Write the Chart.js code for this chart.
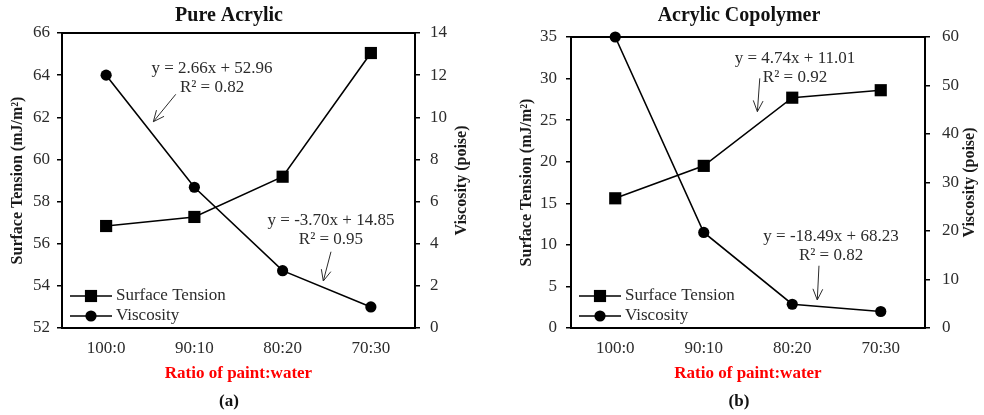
<!DOCTYPE html>
<html><head><meta charset="utf-8">
<script src="https://cdn.jsdelivr.net/npm/chart.js@4.4.0/dist/chart.umd.min.js"></script>
<style>
html,body{margin:0;padding:0;width:984px;height:415px;overflow:hidden;background:#fff;position:relative;}
#c1{position:absolute;left:-20px;top:0;}
#c2{position:absolute;left:494px;top:0;}
</style></head><body>
<canvas id="c1" width="498" height="415"></canvas>
<canvas id="c2" width="490" height="415"></canvas>
<script>
// ---- data ----
const categories = ['100:0', '90:10', '80:20', '70:30'];
const seriesNames = ['Surface Tension', 'Viscosity'];
const pureSurfaceTension = [56.84, 57.27, 59.18, 65.05];
const pureViscosity = [12.0, 6.68, 2.72, 1.0];
const copoSurfaceTension = [15.6, 19.5, 27.7, 28.6];
const copoViscosity = [60.0, 19.7, 4.9, 3.4];
const pureTensionTicks = [52, 54, 56, 58, 60, 62, 64, 66];
const pureViscosityTicks = [0, 2, 4, 6, 8, 10, 12, 14];
const copoTensionTicks = [0, 5, 10, 15, 20, 25, 30, 35];
const copoViscosityTicks = [0, 10, 20, 30, 40, 50, 60];
const pureEquations = [['y = 2.66x + 52.96', 'R² = 0.82'], ['y = -3.70x + 14.85', 'R² = 0.95']];
const copoEquations = [['y = 4.74x + 11.01', 'R² = 0.92'], ['y = -18.49x + 68.23', 'R² = 0.82']];

const FONT = "'Liberation Serif', 'Times New Roman', serif";
const INK = '#2b2b2b';

const framePlugin = {
  id: 'frame',
  beforeDatasetsDraw(chart) {
    const {ctx, chartArea: a} = chart;
    ctx.save();
    ctx.strokeStyle = '#000';
    ctx.lineWidth = 2;
    ctx.strokeRect(a.left, a.top, a.right - a.left, a.bottom - a.top);
    ctx.restore();
  }
};

// right-hand axis title, read bottom-to-top like the reference
const sideTitle = {
  id: 'sideTitle',
  afterDraw(chart, args, opts) {
    const {ctx, chartArea: a} = chart;
    const s = chart.scales.y1;
    const size = 16, lh = size * 1.2;
    ctx.save();
    ctx.translate(s.right - opts.pad - lh / 2, (a.top + a.bottom) / 2);
    ctx.rotate(-Math.PI / 2);
    ctx.font = `bold ${size}px ${FONT}`;
    ctx.fillStyle = '#1a1a1a';
    ctx.textAlign = 'center';
    ctx.textBaseline = 'middle';
    ctx.fillText(opts.text, 0, 0);
    ctx.restore();
  }
};

function drawMarker(ctx, style, r, x, y) {
  ctx.beginPath();
  if (style === 'rect') {
    const s = Math.SQRT1_2 * r;
    ctx.rect(x - s, y - s, 2 * s, 2 * s);
  } else {
    ctx.arc(x, y, r, 0, Math.PI * 2);
  }
  ctx.fill();
}

const lineLegend = {
  id: 'lineLegend',
  afterDatasetsDraw(chart, args, opts) {
    const {ctx, chartArea: a} = chart;
    ctx.save();
    chart.data.datasets.forEach((ds, i) => {
      const yy = a.bottom - opts.bottomOffset + i * opts.rowGap;
      const x0 = a.left + opts.inset, x1 = x0 + opts.lineLength;
      ctx.strokeStyle = ds.borderColor;
      ctx.fillStyle = ds.backgroundColor;
      ctx.lineWidth = ds.borderWidth;
      ctx.beginPath(); ctx.moveTo(x0, yy); ctx.lineTo(x1, yy); ctx.stroke();
      drawMarker(ctx, ds.pointStyle, ds.pointRadius, (x0 + x1) / 2, yy);
      ctx.fillStyle = INK;
      ctx.font = `17px ${FONT}`;
      ctx.textAlign = 'left';
      ctx.textBaseline = 'middle';
      ctx.fillText(ds.label, x1 + opts.textGap, yy);
    });
    ctx.restore();
  }
};

const trendNotes = {
  id: 'trendNotes',
  afterDatasetsDraw(chart, args, opts) {
    const {ctx} = chart;
    const x = chart.scales.x, y = chart.scales.y;
    ctx.save();
    ctx.font = `17px ${FONT}`;
    ctx.fillStyle = INK;
    ctx.strokeStyle = INK;
    ctx.lineWidth = 1;
    ctx.textAlign = 'center';
    ctx.textBaseline = 'middle';
    opts.notes.forEach(n => {
      const px = x.getPixelForValue(n.at[0]);
      const py = y.getPixelForValue(n.at[1]);
      n.lines.forEach((t, i) => ctx.fillText(t, px, py + i * opts.lineGap));
      const x0 = x.getPixelForValue(n.arrowFrom[0]), y0 = y.getPixelForValue(n.arrowFrom[1]);
      const x1 = x.getPixelForValue(n.arrowTo[0]), y1 = y.getPixelForValue(n.arrowTo[1]);
      const ang = Math.atan2(y1 - y0, x1 - x0), L = 12, h = 0.42;
      ctx.beginPath();
      ctx.moveTo(x0, y0); ctx.lineTo(x1, y1);
      ctx.moveTo(x1 - L * Math.cos(ang - h), y1 - L * Math.sin(ang - h));
      ctx.lineTo(x1, y1);
      ctx.lineTo(x1 - L * Math.cos(ang + h), y1 - L * Math.sin(ang + h));
      ctx.stroke();
    });
    ctx.restore();
  }
};

function makeDatasets(st, visc) {
  return [
    {label: seriesNames[0], data: st, yAxisID: 'y', borderColor: '#000', backgroundColor: '#000',
     borderWidth: 1.6, pointStyle: 'rect', pointRadius: 8.6, pointBorderWidth: 0, tension: 0, clip: false},
    {label: seriesNames[1], data: visc, yAxisID: 'y1', borderColor: '#000', backgroundColor: '#000',
     borderWidth: 1.6, pointStyle: 'circle', pointRadius: 5.6, pointBorderWidth: 0, tension: 0, clip: false}
  ];
}

function yAxis(pos, ticks, title, width, tickPad, titlePad) {
  return {
    position: pos,
    min: ticks[0], max: ticks[ticks.length - 1],
    afterBuildTicks(s) { s.ticks = ticks.map(v => ({value: v})); },
    ticks: {font: {family: FONT, size: 17}, color: INK, padding: tickPad},
    grid: {drawOnChartArea: false, drawTicks: true, tickLength: 5, color: '#000', lineWidth: 1.5},
    border: {display: true, color: '#000', width: 2},
    title: {display: !!title, text: title || '', color: '#1a1a1a', font: {family: FONT, size: 16, weight: 'bold'},
            padding: {top: titlePad, bottom: 0}},
    afterFit(s) { s.width = width; }
  };
}

function makeChart(id, cfg) {
  return new Chart(document.getElementById(id), {
    type: 'line',
    data: {labels: categories, datasets: makeDatasets(cfg.st, cfg.visc)},
    options: {
      responsive: false, animation: false, events: [], devicePixelRatio: 1,
      layout: {padding: 0},
      scales: {
        x: {
          type: 'category', offset: true,
          grid: {display: false, drawTicks: false},
          border: {display: true, color: '#000', width: 2},
          ticks: {font: {family: FONT, size: 17}, color: INK, padding: 10.8},
          title: {display: true, text: 'Ratio of paint:water', color: '#ff0000',
                  font: {family: FONT, size: 17, weight: 'bold'}, padding: {top: 0, bottom: 7.4}},
          afterFit(s) { s.height = 63.6; }
        },
        y: yAxis('left', cfg.leftTicks, 'Surface Tension (mJ/m²)', cfg.leftW, cfg.leftPad, cfg.leftTitlePad),
        y1: yAxis('right', cfg.rightTicks, null, cfg.rightW, cfg.rightPad, 0)
      },
      plugins: {
        legend: {display: false},
        tooltip: {enabled: false},
        title: {display: true, text: cfg.title, color: '#111', font: {family: FONT, size: 20, weight: 'bold'},
                padding: {top: 3.7, bottom: cfg.titleBottom}},
        subtitle: {display: true, text: cfg.tag, position: 'bottom', color: '#111',
                   font: {family: FONT, size: 17, weight: 'bold'}, padding: {top: 0, bottom: 3}},
        sideTitle: {text: 'Viscosity (poise)', pad: cfg.rightTitlePad},
        lineLegend: {inset: 8, lineLength: 42, textGap: 4, bottomOffset: 32, rowGap: 20},
        trendNotes: {lineGap: 19, notes: cfg.notes}
      }
    },
    plugins: [framePlugin, lineLegend, trendNotes, sideTitle]
  });
}

makeChart('c1', {
  st: pureSurfaceTension, visc: pureViscosity,
  leftTicks: pureTensionTicks, rightTicks: pureViscosityTicks,
  leftW: 82, leftPad: 7, leftTitlePad: 28.4,
  rightW: 63, rightPad: 10, rightTitlePad: 6.4,
  title: 'Pure Acrylic', titleBottom: 5.3, tag: '(a)',
  notes: [
    {lines: pureEquations[0], at: [1.2, 64.31], arrowFrom: [0.789, 63.09], arrowTo: [0.535, 61.79]},
    {lines: pureEquations[1], at: [2.548, 57.09], arrowFrom: [2.548, 55.62], arrowTo: [2.461, 54.23]}
  ]
});

makeChart('c2', {
  st: copoSurfaceTension, visc: copoViscosity,
  leftTicks: copoTensionTicks, rightTicks: copoViscosityTicks,
  leftW: 77, leftPad: 9, leftTitlePad: 23.4,
  rightW: 59, rightPad: 12, rightTitlePad: 4.4,
  title: 'Acrylic Copolymer', titleBottom: 9.3, tag: '(b)',
  notes: [
    {lines: copoEquations[0], at: [2.031, 32.44], arrowFrom: [1.633, 30.03], arrowTo: [1.606, 26.02]},
    {lines: copoEquations[1], at: [2.438, 10.98], arrowFrom: [2.302, 7.49], arrowTo: [2.283, 3.37]}
  ]
});
</script>
</body></html>
